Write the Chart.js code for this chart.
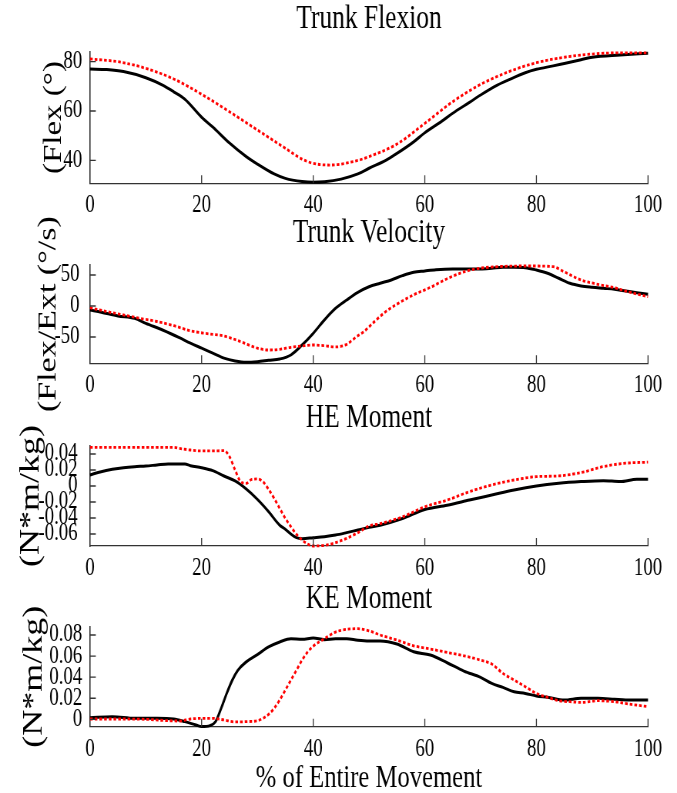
<!DOCTYPE html>
<html>
<head>
<meta charset="utf-8">
<title>Trunk flexion, velocity and moments</title>
<script src="https://cdn.jsdelivr.net/npm/chart.js@4.4.1/dist/chart.umd.min.js"></script>
<style>
  html, body { margin: 0; padding: 0; background: #fff; overflow: hidden; }
  #wrap { position: relative; width: 677px; height: 793px; }
  #wrap canvas { position: absolute; left: 0; width: 677px; }
</style>
</head>
<body>
<div id="wrap">
  <canvas id="flexChart" width="879" height="222" style="top:0;height:222px"></canvas>
  <canvas id="velChart" width="879" height="212" style="top:205px;height:212px"></canvas>
  <canvas id="heChart" width="879" height="195" style="top:390px;height:195px"></canvas>
  <canvas id="keChart" width="879" height="223" style="top:570px;height:223px"></canvas>
</div>
<script>
// tick values
var movementTicks = [0, 20, 40, 60, 80, 100];
var flexTicks = [40, 60, 80];
var velTicks = [-50, 0, 50];
var heTicks = [-0.06, -0.04, -0.02, 0, 0.02, 0.04];
var keTicks = [0, 0.02, 0.04, 0.06, 0.08];

// Trunk Flexion
var flexSolidPct = [0, 3, 6, 10, 13, 15, 17, 20, 22, 25, 28, 30, 33, 35, 38, 40, 42, 45, 48, 50, 53, 55, 58, 60, 63, 65, 68, 70, 73, 75, 78, 80, 83, 85, 88, 90, 95, 100];
var flexSolid = [77.0, 76.8, 76.0, 73.5, 70.5, 67.8, 64.8, 57.5, 53.5, 47.0, 41.5, 38.5, 34.5, 32.7, 31.4, 31.1, 31.3, 32.4, 34.5, 36.8, 40.0, 42.8, 47.5, 51.2, 55.8, 59.1, 63.5, 66.5, 70.5, 72.6, 75.5, 76.9, 78.3, 79.3, 80.8, 81.8, 82.7, 83.4];
var flexDottedPct = [0, 5, 10, 15, 20, 25, 30, 35, 38, 40, 43, 45, 48, 50, 55, 60, 65, 70, 75, 80, 85, 90, 95, 100];
var flexDotted = [81.1, 80.0, 77.3, 73.0, 66.8, 59.7, 52.3, 44.9, 40.5, 38.8, 38.1, 38.5, 40.0, 41.5, 46.6, 55.0, 63.8, 70.8, 75.9, 79.6, 81.8, 83.1, 83.6, 83.6];

// Trunk Velocity
var velSolidPct = [0, 2, 5, 8, 10, 13, 16, 18, 20, 22, 24, 26, 28, 30, 32, 34, 36, 38, 40, 42, 44, 46, 48, 50, 52, 54, 56, 58, 60, 62, 65, 70, 72, 74, 76, 78, 80, 82, 84, 86, 88, 90, 92, 94, 96, 98, 100];
var velSolid = [-6.5, -10, -16, -20, -28, -38.7, -51, -60, -68, -76, -84, -88.7, -90.8, -89.8, -87.6, -85.5, -79, -63, -44, -22.6, -3.8, 9.7, 22, 31, 36.6, 42, 48.9, 54.3, 56.5, 58.5, 59.7, 59.7, 60.8, 62.4, 62.4, 61.8, 58, 52.7, 44.7, 36.6, 32.3, 30.1, 28.5, 26.9, 24.2, 21.5, 18.9];
var velDottedPct = [0, 3, 6, 9, 12, 15, 18, 21, 24, 27, 30, 32, 34, 36, 38, 40, 42, 44, 46, 47, 48, 49, 51, 53, 55, 58, 61, 64, 67, 69, 73, 79, 83, 85, 88, 91, 94, 96, 100];
var velDotted = [-2.7, -9, -14.5, -20, -25, -31.7, -40, -44.6, -48.4, -57.5, -68, -71, -69.8, -66.6, -64.5, -62.9, -64, -66, -61.8, -55, -48, -42, -25, -9, 3, 18, 30, 44, 55, 59.7, 63.4, 64.5, 63.4, 55, 42, 35, 29.5, 24, 15];

// HE Moment
var heSolidPct = [0, 2, 4, 6, 8, 10, 12, 14, 17, 18, 20, 22, 24, 26, 28, 30, 32, 34, 35, 36, 37, 38, 40, 42, 44, 46, 48, 50, 52, 56, 60, 64, 68, 72, 76, 80, 84, 88, 92, 95, 98, 100];
var heSolid = [0.0138, 0.0179, 0.0208, 0.0229, 0.0242, 0.025, 0.0263, 0.0275, 0.0275, 0.0254, 0.0229, 0.0192, 0.0125, 0.0063, -0.0038, -0.0167, -0.032, -0.049, -0.054, -0.060, -0.0646, -0.0658, -0.0646, -0.0633, -0.0613, -0.0583, -0.055, -0.0517, -0.049, -0.0407, -0.0294, -0.024, -0.0176, -0.0113, -0.005, 0, 0.0034, 0.0055, 0.0067, 0.0055, 0.0084, 0.0084];
var heDottedPct = [0, 15, 16, 18, 20, 22, 24, 25, 26, 27, 28, 29, 30, 31, 32, 33, 34, 35, 36, 37, 38, 39, 40, 42, 44, 46, 48, 50, 52, 56, 60, 64, 68, 72, 76, 80, 84, 88, 92, 96, 100];
var heDotted = [0.0483, 0.0483, 0.047, 0.045, 0.0438, 0.0438, 0.0442, 0.0367, 0.02, 0.0054, 0.0033, 0.0083, 0.0088, 0.0054, -0.0042, -0.0154, -0.028, -0.0404, -0.0508, -0.0604, -0.0675, -0.0725, -0.075, -0.0742, -0.0708, -0.0654, -0.0583, -0.05, -0.047, -0.0386, -0.026, -0.0176, -0.0071, 0.0013, 0.0075, 0.0117, 0.0126, 0.0168, 0.0243, 0.0285, 0.0298];

// KE Moment
var keSolidPct = [0, 4, 8, 12, 15, 17, 19, 20, 21.5, 22.5, 23.5, 24.5, 25.5, 26.5, 28, 30, 32, 34, 36, 38, 40, 42, 44, 46, 48, 50, 52, 55, 58, 61, 64, 67, 70, 72, 74, 76, 78, 80, 82, 85, 88, 91, 94, 96, 100];
var keSolid = [0.0016, 0.0025, 0.0009, 0.0009, 0.0003, -0.0022, -0.0054, -0.0069, -0.006, -0.0022, 0.0104, 0.0246, 0.0372, 0.0466, 0.0545, 0.0614, 0.0687, 0.0734, 0.0765, 0.0759, 0.0772, 0.0756, 0.0765, 0.0765, 0.075, 0.0743, 0.0743, 0.0714, 0.0641, 0.061, 0.0537, 0.0458, 0.0398, 0.0341, 0.0303, 0.0262, 0.0246, 0.0221, 0.0209, 0.0183, 0.0199, 0.0199, 0.019, 0.0183, 0.0183];
var keDottedPct = [0, 5, 10, 14, 16, 18, 20, 22, 24, 26, 28, 30, 31, 32, 33, 34, 35, 36, 37, 38, 39, 40, 42, 44, 46, 48, 50, 52, 55, 58, 61, 64, 67, 70, 72, 74, 76, 78, 80, 82, 84, 86, 88, 91, 94, 97, 100];
var keDotted = [0.0003, 0.0003, 0, -0.0013, -0.0016, 0.0003, 0.0009, 0.0009, -0.0006, -0.0025, -0.0022, -0.0013, 0.0009, 0.0047, 0.0104, 0.0183, 0.0277, 0.0372, 0.0466, 0.0561, 0.0639, 0.0693, 0.0765, 0.0828, 0.0854, 0.086, 0.084, 0.08, 0.0752, 0.0698, 0.0667, 0.0635, 0.0603, 0.0562, 0.0524, 0.0436, 0.0373, 0.031, 0.0246, 0.0209, 0.0177, 0.0167, 0.0161, 0.0177, 0.0167, 0.0142, 0.012];

// canvases are 879 wide but shown at 677px, so everything is squeezed like the original figure
var SERIF = "'Liberation Serif', 'Times New Roman', serif";
var AXIS_LEFT = 116.85;   // 90px on the page
var PAD_RIGHT = 37.65;    // right edge at 648px on the page
var AXIS_COLOR = '#333';

var inwardTicks = {
    id: 'inwardTicks',
    afterDatasetsDraw: function (chart) {
        var ctx = chart.ctx, area = chart.chartArea, x = chart.scales.x, y = chart.scales.y;
        ctx.save();
        ctx.strokeStyle = AXIS_COLOR;
        ctx.beginPath();
        ctx.lineWidth = 1.3;
        x.ticks.forEach(function (t) {
            if (t.value === x.min) return;
            var px = x.getPixelForValue(t.value);
            ctx.moveTo(px, area.bottom);
            ctx.lineTo(px, area.bottom - 8);
        });
        y.ticks.forEach(function (t) {
            var py = y.getPixelForValue(t.value);
            ctx.moveTo(area.left, py);
            ctx.lineTo(area.left + 7.5, py);
        });
        ctx.stroke();
        ctx.restore();
    }
};

function points(pct, vals) {
    return pct.map(function (p, i) { return { x: p, y: vals[i] }; });
}

function setTicks(values) {
    return function (axis) { axis.ticks = values.map(function (v) { return { value: v }; }); };
}

function panel(id, p) {
    return new Chart(document.getElementById(id), {
        type: 'line',
        data: {
            datasets: [{
                data: points(p.solidPct, p.solid),
                borderColor: '#000',
                borderWidth: 3,
                order: 1
            }, {
                data: points(p.dottedPct, p.dotted),
                borderColor: '#ff0000',
                borderWidth: 2.8,
                borderDash: [3.5, 2.6],
                order: 0
            }]
        },
        options: {
            responsive: false,
            animation: false,
            events: [],
            datasets: { line: { pointRadius: 0, cubicInterpolationMode: 'monotone', clip: false, borderCapStyle: 'butt' } },
            layout: { padding: { left: 0, right: PAD_RIGHT, top: 0, bottom: 0 } },
            plugins: {
                legend: { display: false },
                tooltip: { enabled: false },
                title: {
                    display: true, text: p.title, color: '#000', fullSize: false,
                    font: { family: SERIF, size: 33, weight: 'normal' },
                    padding: p.titlePad
                }
            },
            scales: {
                x: {
                    type: 'linear', min: 0, max: 100,
                    afterBuildTicks: setTicks(movementTicks),
                    afterFit: function (s) { s.height = p.xHeight; },
                    grid: { display: false },
                    border: { color: AXIS_COLOR, width: 1.3 },
                    ticks: { color: '#000', font: { family: SERIF, size: 24.5 }, padding: 0, maxRotation: 0, autoSkip: false },
                    title: p.xTitle ? {
                        display: true, text: p.xTitle, color: '#000',
                        font: { family: SERIF, size: 32, lineHeight: 1 },
                        padding: { top: 0, bottom: -2 }
                    } : { display: false }
                },
                y: {
                    type: 'linear', min: p.min, max: p.max,
                    afterBuildTicks: setTicks(p.ticks),
                    afterFit: function (s) { s.width = AXIS_LEFT; },
                    grid: { display: false },
                    border: { color: AXIS_COLOR, width: 1.6 },
                    ticks: {
                        color: '#000', font: { family: SERIF, size: 24.5 }, padding: p.tickPad, autoSkip: false,
                        callback: function (v) { return String(v); }
                    },
                    title: {
                        display: true, text: p.yTitle, color: '#000',
                        font: { family: SERIF, size: p.yTitleSize },
                        padding: { top: p.yTitlePad, bottom: 0 }
                    }
                }
            }
        },
        plugins: [inwardTicks]
    });
}

panel('flexChart', {
    title: 'Trunk Flexion', yTitle: '(Flex (\u00b0)', yTitleSize: 33,
    solidPct: flexSolidPct, solid: flexSolid, dottedPct: flexDottedPct, dotted: flexDotted,
    ticks: flexTicks, min: 30.7, max: 84.05,
    titlePad: { top: 0, bottom: 12.1 }, xHeight: 38.7, tickPad: 2, yTitlePad: 50.6
});

panel('velChart', {
    title: 'Trunk Velocity', yTitle: '(Flex/Ext (\u00b0/s)', yTitleSize: 34,
    solidPct: velSolidPct, solid: velSolid, dottedPct: velDottedPct, dotted: velDotted,
    ticks: velTicks, min: -92.4, max: 66.1,
    titlePad: { top: 8.2, bottom: 12.2 }, xHeight: 53.7, tickPad: 5.5, yTitlePad: 42.2
});

panel('heChart', {
    title: 'HE Moment', yTitle: '(N*m/kg)', yTitleSize: 36,
    solidPct: heSolidPct, solid: heSolid, dottedPct: heDottedPct, dotted: heDotted,
    ticks: heTicks, min: -0.075, max: 0.05,
    titlePad: { top: 8.8, bottom: 7.6 }, xHeight: 39, tickPad: 8, yTitlePad: 19.4
});

panel('keChart', {
    title: 'KE Moment', yTitle: '(N*m/kg)', yTitleSize: 36, xTitle: '% of Entire Movement',
    solidPct: keSolidPct, solid: keSolid, dottedPct: keDottedPct, dotted: keDotted,
    ticks: keTicks, min: -0.007, max: 0.0876,
    titlePad: { top: 9.2, bottom: 8.2 }, xHeight: 66.3, tickPad: 2, yTitlePad: 23.4
});
</script>
</body>
</html>
